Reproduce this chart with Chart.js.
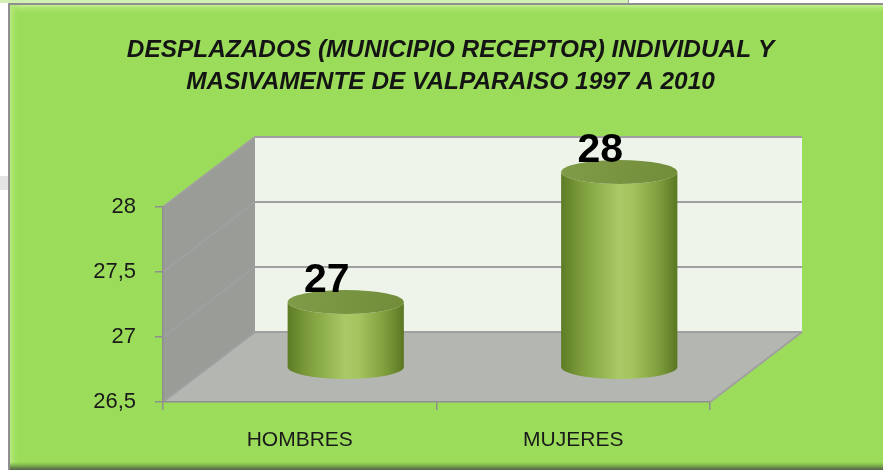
<!DOCTYPE html>
<html>
<head>
<meta charset="utf-8">
<script src="https://cdn.jsdelivr.net/npm/chart.js@4.4.0/dist/chart.umd.min.js"></script>
<style>
  html, body { margin: 0; padding: 0; background: #fff; overflow: hidden; }
  #wrap { width: 883px; height: 470px; }
</style>
</head>
<body>
<div id="wrap"><canvas id="chart" width="883" height="470"></canvas></div>
<script>
// data
const categories = ['HOMBRES', 'MUJERES'];
const values = [27, 28];
const valueLabels = ['27', '28'];
const yMin = 26.5;
const yMax = 28;
const yStep = 0.5;
const titleLines = [
    'DESPLAZADOS (MUNICIPIO RECEPTOR) INDIVIDUAL Y',
    'MASIVAMENTE DE VALPARAISO 1997 A 2010'
];

// look
const panelGreen = '#9bdd5a';
const axisGrey = '#8e8e8e';
const textDark = '#1a1a1a';
const depthX = 92;   // 3d depth offset of the walls
const depthY = -70;
const ellipseRy = 12;

// frame + panel behind everything
let drawPanel = (ctx, w, h) => {
    ctx.save();
    ctx.fillStyle = '#ffffff';
    ctx.fillRect(0, 0, w, h);
    // strip of the sheet above the chart
    ctx.fillStyle = '#d2efb4';
    ctx.fillRect(0, 0, 628, 3);
    ctx.fillStyle = '#9c9c9c';
    ctx.fillRect(628, 0, 1, 3);
    ctx.fillStyle = '#e4e4e4';
    ctx.fillRect(0, 176, 8, 14);
    // shadow border
    ctx.fillStyle = '#8f8f8f';
    ctx.fillRect(8, 3, w - 8, 2);
    ctx.fillRect(8, 3, 2, h - 3);
    // panel
    ctx.fillStyle = panelGreen;
    ctx.fillRect(10, 5, w - 10, h - 5);
    // bevel highlights
    let g = ctx.createLinearGradient(0, 5, 0, 14);
    g.addColorStop(0, '#c4f08f');
    g.addColorStop(1, 'rgba(155,221,90,0)');
    ctx.fillStyle = g;
    ctx.fillRect(10, 5, w - 10, 9);
    g = ctx.createLinearGradient(10, 0, 20, 0);
    g.addColorStop(0, '#b8ea80');
    g.addColorStop(1, 'rgba(155,221,90,0)');
    ctx.fillStyle = g;
    ctx.fillRect(10, 5, 10, h - 5);
    g = ctx.createLinearGradient(0, h - 8, 0, h);
    g.addColorStop(0, 'rgba(120,170,70,0)');
    g.addColorStop(0.6, '#6f9a48');
    g.addColorStop(1, '#55604c');
    ctx.fillStyle = g;
    ctx.fillRect(10, h - 8, w - 10, 8);
    ctx.restore();
};

// walls, floor and gridlines of the 3d box, from the scales
let drawWalls = (chart) => {
    const ctx = chart.ctx;
    const x = chart.scales.x;
    const y = chart.scales.y;
    const L = x.left, R = x.right;
    const top = y.getPixelForValue(yMax);
    const bottom = y.getPixelForValue(yMin);
    ctx.save();
    // left side wall
    ctx.fillStyle = '#9a9c97';
    ctx.beginPath();
    ctx.moveTo(L, top);
    ctx.lineTo(L + depthX, top + depthY);
    ctx.lineTo(L + depthX, bottom + depthY);
    ctx.lineTo(L, bottom);
    ctx.closePath();
    ctx.fill();
    // back wall
    ctx.fillStyle = '#eef4ea';
    ctx.fillRect(L + depthX, top + depthY, R - L, bottom - top);
    // floor
    ctx.fillStyle = '#b4b6b1';
    ctx.beginPath();
    ctx.moveTo(L, bottom);
    ctx.lineTo(R, bottom);
    ctx.lineTo(R + depthX, bottom + depthY);
    ctx.lineTo(L + depthX, bottom + depthY);
    ctx.closePath();
    ctx.fill();
    // gridlines on side and back wall
    ctx.strokeStyle = '#a0a0a0';
    ctx.lineWidth = 2;
    for (let v = yMin; v <= yMax + 1e-9; v += yStep) {
        const py = y.getPixelForValue(v);
        ctx.beginPath();
        ctx.moveTo(L, py);
        ctx.lineTo(L + depthX, py + depthY);
        ctx.lineTo(R + depthX, py + depthY);
        ctx.stroke();
    }
    // floor right edge
    ctx.beginPath();
    ctx.moveTo(R, bottom);
    ctx.lineTo(R + depthX, bottom + depthY);
    ctx.stroke();
    ctx.restore();
};

let drawCylinders = (chart) => {
    const ctx = chart.ctx;
    const y = chart.scales.y;
    const meta = chart.getDatasetMeta(0);
    const baseY = y.getPixelForValue(y.min) + depthY / 2;
    ctx.save();
    meta.data.forEach((bar, i) => {
        const cx = bar.x + depthX / 2;
        const topY = bar.y + depthY / 2;
        const rx = bar.width / 2;
        const ry = ellipseRy;
        // body
        let g = ctx.createLinearGradient(cx - rx, 0, cx + rx, 0);
        g.addColorStop(0, '#5d7c25');
        g.addColorStop(0.18, '#7e9e3d');
        g.addColorStop(0.5, '#a9ca66');
        g.addColorStop(0.62, '#a2c35d');
        g.addColorStop(0.85, '#7c9c3b');
        g.addColorStop(1, '#5a7722');
        ctx.fillStyle = g;
        ctx.beginPath();
        ctx.moveTo(cx - rx, topY);
        ctx.lineTo(cx - rx, baseY);
        ctx.ellipse(cx, baseY, rx, ry, 0, Math.PI, 0, true);
        ctx.lineTo(cx + rx, topY);
        ctx.ellipse(cx, topY, rx, ry, 0, 0, Math.PI, false);
        ctx.closePath();
        ctx.fill();
        // top cap
        g = ctx.createLinearGradient(cx - rx, topY - ry, cx + rx, topY + ry);
        g.addColorStop(0, '#809c48');
        g.addColorStop(1, '#718d3a');
        ctx.fillStyle = g;
        ctx.beginPath();
        ctx.ellipse(cx, topY, rx, ry, 0, 0, Math.PI * 2);
        ctx.fill();
        // value label
        ctx.fillStyle = '#000000';
        ctx.font = "bold 41px 'Liberation Sans Narrow', 'Liberation Sans', Arial, sans-serif";
        ctx.textAlign = 'center';
        ctx.textBaseline = 'alphabetic';
        ctx.fillText(valueLabels[i], bar.x + 27, topY - ry + 2);
    });
    ctx.restore();
};

const box3d = {
    id: 'box3d',
    beforeDraw: (chart) => {
        drawPanel(chart.ctx, chart.width, chart.height);
        drawWalls(chart);
    },
    afterDatasetsDraw: (chart) => {
        drawCylinders(chart);
    }
};

const tickFont = { family: "'Liberation Sans', Arial, sans-serif", size: 21 };

const data = {
    labels: categories,
    datasets: [{
        label: 'Desplazados',
        data: values,
        backgroundColor: 'rgba(0,0,0,0)',
        borderWidth: 0,
        barPercentage: 0.85,
        categoryPercentage: 0.5,
    }]
};

const config = {
    type: 'bar',
    data,
    options: {
        responsive: false,
        animation: false,
        devicePixelRatio: 1,
        layout: { padding: { left: 18, top: 0, right: 0, bottom: 0 } },
        plugins: {
            legend: { display: false },
            tooltip: { enabled: false },
            title: {
                display: true,
                text: titleLines,
                color: '#141414',
                font: {
                    family: "'Liberation Sans Narrow', 'Liberation Sans', sans-serif",
                    size: 24.4,
                    weight: 'bold',
                    style: 'italic',
                    lineHeight: 1.33
                },
                padding: { top: 34, bottom: 207 - 34 - 2 * 24.4 * 1.33 }
            }
        },
        scales: {
            x: {
                offset: true,
                grid: { display: true, drawOnChartArea: false, tickLength: 8, color: axisGrey, lineWidth: 1.5 },
                border: { display: true, color: axisGrey, width: 1.5 },
                ticks: { color: textDark, font: tickFont, padding: 18 },
                afterFit: (s) => { s.height = 68; }
            },
            y: {
                min: yMin,
                max: yMax,
                grid: { display: true, drawOnChartArea: false, tickLength: 8, color: axisGrey, lineWidth: 1.5 },
                border: { display: true, color: axisGrey, width: 1.5 },
                ticks: {
                    stepSize: yStep,
                    color: textDark,
                    font: { family: tickFont.family, size: 22 },
                    padding: 19,
                    callback: (v) => String(v).replace('.', ',')
                },
                afterFit: (s) => { s.width = 145; }
            },
            // empty right axis only to reserve room for the 3d depth
            side: {
                type: 'linear',
                position: 'right',
                display: true,
                grid: { display: false },
                border: { display: false },
                ticks: { display: false },
                afterFit: (s) => { s.width = 173; }
            }
        }
    },
    plugins: [box3d]
};

new Chart(document.getElementById('chart'), config);
</script>
</body>
</html>
